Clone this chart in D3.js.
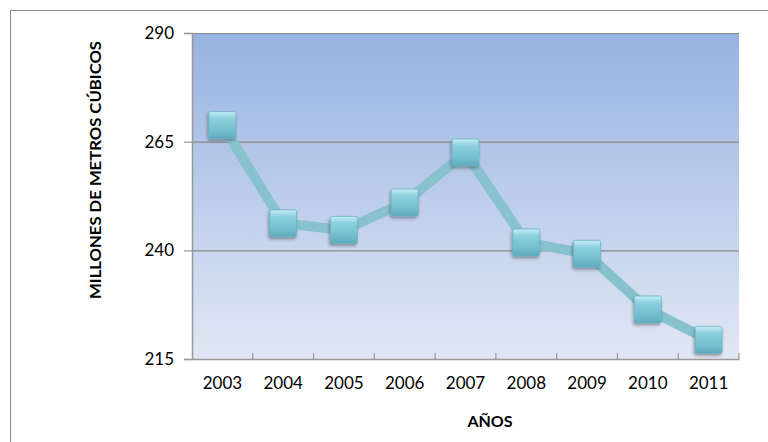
<!DOCTYPE html>
<html><head><meta charset="utf-8">
<script src="https://cdn.jsdelivr.net/npm/d3@7"></script>
<style>body{margin:0;background:#fff}svg{display:block}</style>
</head><body>
<svg id="c" width="768" height="442"></svg>
<script>
const years = ["2003","2004","2005","2006","2007","2008","2009","2010","2011"];
const values = [268.8, 246.2, 244.7, 251.0, 262.5, 241.8, 239.2, 226.4, 219.4];
const yTicks = [215, 240, 265, 290];

const svg = d3.select("#c");
const m = {l:192, r:739, t:33, b:359};
const font = "Lato, 'Open Sans', sans-serif";

svg.append("rect").attr("x",10.5).attr("y",10.5).attr("width",780).attr("height",460)
  .attr("fill","#fff").attr("stroke","#8c8c8c").attr("stroke-width",1);

const defs = svg.append("defs");
const bg = defs.append("linearGradient").attr("id","bg").attr("x1",0).attr("y1",0).attr("x2",0).attr("y2",1);
bg.append("stop").attr("offset","0%").attr("stop-color","#97b3e1");
bg.append("stop").attr("offset","100%").attr("stop-color","#e1e7f4");
const mk = defs.append("linearGradient").attr("id","mk").attr("x1",0).attr("y1",0).attr("x2",0).attr("y2",1);
mk.append("stop").attr("offset","0%").attr("stop-color","#c4eef5");
mk.append("stop").attr("offset","25%").attr("stop-color","#8dd0de");
mk.append("stop").attr("offset","75%").attr("stop-color","#70bccd");
mk.append("stop").attr("offset","100%").attr("stop-color","#5eaabc");
const sh = defs.append("filter").attr("id","sh").attr("x","-30%").attr("y","-30%").attr("width","170%").attr("height","170%");
sh.append("feDropShadow").attr("dx",-1).attr("dy",2).attr("stdDeviation",1.5).attr("flood-color","#333").attr("flood-opacity",0.45);

const x = d3.scaleBand().domain(years).range([m.l, m.r]);
const y = d3.scaleLinear().domain([215, 290]).range([m.b, m.t]);

svg.append("rect").attr("x",m.l).attr("y",m.t).attr("width",m.r-m.l).attr("height",m.b-m.t).attr("fill","url(#bg)");

svg.append("g").selectAll("line").data(yTicks.filter(d=>d>215)).join("line")
  .attr("x1",m.l).attr("x2",m.r).attr("y1",d=>y(d)+0.5).attr("y2",d=>y(d)+0.5)
  .attr("stroke","#888").attr("stroke-width",1.2);

const ya = svg.append("g").attr("transform",`translate(${m.l},0)`)
  .call(d3.axisLeft(y).tickValues(yTicks).tickSize(8).tickPadding(10).tickFormat(d3.format("d")));
ya.select(".domain").attr("stroke","#999").attr("stroke-width",1.5);
ya.selectAll(".tick line").attr("stroke","#999").attr("stroke-width",1.2);
ya.selectAll("text").attr("font-family",font).attr("font-size",17).attr("fill","#000");

const xa = svg.append("g").attr("transform",`translate(0,${m.b})`)
  .call(d3.axisBottom(x).tickSize(0).tickPadding(18));
xa.select(".domain").attr("stroke","#999").attr("stroke-width",1.5);
xa.selectAll("text").attr("font-family",font).attr("font-size",17).attr("fill","#000");
svg.append("g").selectAll("line").data(years.slice(1).concat(["end"])).join("line")
  .attr("x1",(d,i)=> i<years.length-1 ? x(d) : m.r).attr("x2",(d,i)=> i<years.length-1 ? x(d) : m.r)
  .attr("y1",m.b).attr("y2",m.b-6).attr("stroke","#999").attr("stroke-width",1.2);

const line = d3.line().x((d,i)=>x(years[i])+x.bandwidth()/2).y(d=>y(d));
svg.append("path").datum(values).attr("d",line).attr("fill","none")
  .attr("stroke","#88c2cf").attr("stroke-width",10).attr("stroke-linejoin","round");

const s = 27;
svg.append("g").selectAll("rect").data(values).join("rect")
  .attr("x",(d,i)=>x(years[i])+x.bandwidth()/2 - s/2)
  .attr("y",d=>y(d)-s/2)
  .attr("width",s).attr("height",s).attr("rx",2)
  .attr("fill","url(#mk)").attr("stroke","#6bb3c4").attr("stroke-width",0.8)
  .attr("filter","url(#sh)");

svg.append("text").attr("transform","translate(101,170) rotate(-90)")
  .attr("text-anchor","middle").attr("font-family",font).attr("font-weight","bold")
  .attr("font-size",15.5).attr("textLength",258).attr("lengthAdjust","spacingAndGlyphs")
  .attr("fill","#000").text("MILLONES DE METROS CÚBICOS");
svg.append("text").attr("x",490).attr("y",427).attr("text-anchor","middle")
  .attr("font-family",font).attr("font-weight","bold").attr("font-size",16).attr("fill","#000").text("AÑOS");
</script>
</body></html>
